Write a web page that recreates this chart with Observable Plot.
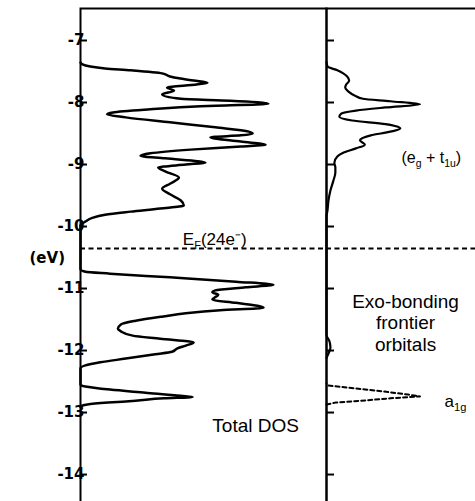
<!DOCTYPE html>
<html><head><meta charset="utf-8">
<script src="https://cdn.jsdelivr.net/npm/d3@7"></script>
<script src="https://cdn.jsdelivr.net/npm/@observablehq/plot@0.6"></script>
<style>
body{margin:0;background:#fff;}
#chart{position:relative;width:475px;height:501px;overflow:hidden;background:#fff;}
#chart svg{position:absolute;top:0;}
</style></head><body><div id="chart"></div>
<script>
// Energy axis (eV)
const energyTicks = [-7, -8, -9, -10, -11, -12, -13, -14];
const energyDomain = [-14.58, -6.484];
const fermiLevel = -10.355;

// Total DOS (left panel)
const totalE = [-7.355,-7.387,-7.42,-7.45,-7.48,-7.53,-7.58,-7.61,-7.645,-7.68,-7.71,-7.76,-7.81,-7.87,-7.94,-7.97,-8.02,-8.06,-8.11,-8.16,-8.19,-8.24,-8.32,-8.40,-8.47,-8.50,-8.53,-8.56,-8.63,-8.68,-8.71,-8.76,-8.82,-8.86,-8.90,-8.97,-9.00,-9.05,-9.11,-9.21,-9.31,-9.39,-9.48,-9.58,-9.66,-9.71,-9.76,-9.81,-9.86,-9.92,-9.98,
  -10.69,-10.73,-10.76,-10.82,-10.89,-10.94,-10.98,-11.03,-11.06,-11.10,-11.15,-11.18,-11.23,-11.31,-11.35,-11.40,-11.45,-11.52,-11.58,-11.65,-11.69,-11.76,-11.81,-11.87,-11.92,-11.97,-12.02,-12.06,-12.13,-12.19,-12.24,-12.29,
  -12.55,-12.58,-12.63,-12.68,-12.73,-12.75,-12.77,-12.81,-12.84,-12.87,-12.90];
const totalDOS = [0,0.2,1.0,2.5,5.1,8.3,9.1,10.0,11.5,12.9,11.8,8.8,9.5,8.3,10.2,15.2,19.1,12.2,7.1,3.3,2.7,4.6,9.1,13.7,17.1,17.5,16.3,13.2,16.3,18.8,16.3,11.2,7.1,6.1,8.6,12.7,10.7,7.9,8.6,10.0,9.1,8.3,9.1,10.2,10.5,8.1,5.1,2.5,1.2,0.5,0,
  0,0.5,3.0,9.1,15.8,19.6,16.8,13.7,13.4,14.0,13.6,13.4,15.8,18.6,14.2,10.7,8.4,5.6,4.1,3.8,4.1,5.3,8.1,11.5,10.7,9.8,9.3,7.6,4.6,2.0,0.5,0,
  0,0.5,3.0,6.6,10.2,11.4,8.5,5.6,2.8,0.7,0];

// Projected DOS (right panel): eg + t1u
const egt1uE = [-7.35,-7.42,-7.48,-7.53,-7.58,-7.65,-7.71,-7.76,-7.82,-7.89,-7.94,-7.98,-8.03,-8.08,-8.13,-8.18,-8.23,-8.29,-8.35,-8.42,-8.47,-8.53,-8.61,-8.68,-8.74,-8.81,-8.87,-8.97,-9.05,-9.13,-9.26,-9.42,-9.58,-9.74,-9.84,-11.75,-11.85,-11.95,-12.05,-12.12];
const egt1uDOS = [0,0.1,1.1,1.7,2.1,2.3,2.0,1.9,2.2,2.9,3.7,6.5,9.5,6.0,3.0,1.5,1.3,2.6,6.0,7.5,6.5,4.5,3.4,3.9,3.0,1.7,1.1,0.8,0.9,0.9,0.7,0.4,0.2,0.1,0,0,0.3,0.4,0.2,0];

// Projected DOS (right panel): a1g (dashed)
const a1gE = [-12.53,-12.565,-12.61,-12.66,-12.71,-12.74,-12.77,-12.81,-12.84,-12.87];
const a1gDOS = [0,0.2,2.9,5.8,8.3,9.5,6.5,3.5,0.9,0];

const total = totalE.map((E, i) => ({E, d: totalDOS[i]})).sort((a, b) => a.E - b.E);
const egt1u = egt1uE.map((E, i) => ({E, d: egt1uDOS[i]})).sort((a, b) => a.E - b.E);
const a1g = a1gE.map((E, i) => ({E, d: a1gDOS[i]})).sort((a, b) => a.E - b.E);

const annFont = "Liberation Sans, Arial, sans-serif";

const left = Plot.plot({
  width: 327, height: 530,
  marginLeft: 80, marginRight: 1, marginTop: 8, marginBottom: 20,
  x: {domain: [0, 25], axis: null},
  y: {domain: energyDomain, axis: null},
  style: {background: "transparent", color: "black", overflow: "visible"},
  marks: [
    Plot.frame({stroke: "black", strokeWidth: 2}),
    Plot.axisY(energyTicks, {anchor: "left", tickSize: -7, strokeWidth: 2, tickPadding: 3,
      tickFormat: d => String(d), fontSize: 15, fontWeight: "bold", fontFamily: "DejaVu Sans", label: null}),
    Plot.text(["(eV)"], {frameAnchor: "left", dx: -51, dy: -1, fontSize: 15, fontWeight: "bold", fontFamily: "DejaVu Sans"}),
    Plot.ruleY([fermiLevel], {stroke: "black", strokeWidth: 2, strokeDasharray: "5,3.5"}),
    Plot.line(total, {x: "d", y: "E", curve: "monotone-y", stroke: "black", strokeWidth: 2.5}),
    Plot.text(["E_{F}(24e⁻)"], {x: 10.4, y: -10.21, textAnchor: "start", fontSize: 17, fontFamily: annFont}),
    Plot.text(["Total DOS"], {x: 17.8, y: -13.22, fontSize: 19, fontFamily: annFont})
  ]
});

const right = Plot.plot({
  width: 170, height: 530,
  marginLeft: 10, marginRight: 0, marginTop: 8, marginBottom: 20,
  x: {domain: [0, 16.26], axis: null},
  y: {domain: energyDomain, axis: null},
  style: {background: "transparent", color: "black", overflow: "visible"},
  marks: [
    Plot.frame({stroke: "black", strokeWidth: 2}),
    Plot.axisY(energyTicks, {anchor: "left", tickSize: -8, strokeWidth: 2, tickFormat: () => "", label: null}),
    Plot.ruleY([fermiLevel], {stroke: "black", strokeWidth: 2, strokeDasharray: "5,3.5"}),
    Plot.line(egt1u, {x: "d", y: "E", curve: "monotone-y", stroke: "black", strokeWidth: 2.2}),
    Plot.line(a1g, {x: "d", y: "E", stroke: "black", strokeWidth: 2, strokeDasharray: "4,3"}),
    Plot.text(["(e_{g} + t_{1u})"], {x: 7.62, y: -8.90, textAnchor: "start", fontSize: 16, fontFamily: annFont}),
    Plot.text(["Exo-bonding\nfrontier\norbitals"], {x: 8.03, y: -11.55, lineHeight: 1.12, fontSize: 19, fontFamily: annFont}),
    Plot.text(["a_{1g}"], {x: 12.0, y: -12.83, textAnchor: "start", fontSize: 17, fontFamily: annFont})
  ]
});

function subscripts(svg) {
  d3.select(svg).selectAll("text").each(function() {
    const t = this.textContent;
    if (!t.includes("_{")) return;
    const el = d3.select(this);
    el.text(null);
    const parts = t.split(/(_\{[^}]*\})/).filter(p => p);
    let shifted = false;
    for (const p of parts) {
      if (p.startsWith("_{")) {
        el.append("tspan").attr("font-size", "65%").attr("dy", shifted ? 0 : 4).text(p.slice(2, -1));
        shifted = true;
      } else {
        const ts = el.append("tspan").text(p);
        if (shifted) { ts.attr("dy", -4); shifted = false; }
      }
    }
  });
}
subscripts(left);
subscripts(right);

left.style.left = "0px";
right.style.left = "316px";
const chart = document.getElementById("chart");
chart.appendChild(left);
chart.appendChild(right);
</script>
</body></html>
